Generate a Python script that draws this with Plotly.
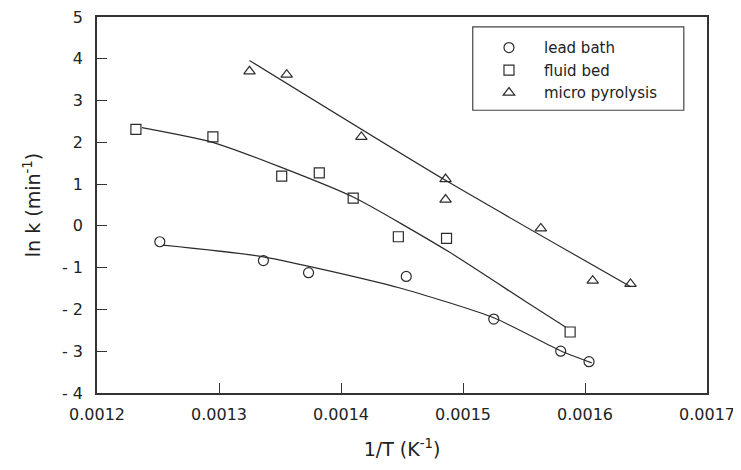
import plotly.graph_objects as go

# ---- data ----
lead_x = [0.0012515, 0.0013364, 0.0013734, 0.0014535, 0.0015252, 0.0015801, 0.0016033]
lead_y = [-0.38, -0.83, -1.12, -1.21, -2.23, -3.00, -3.25]

fluid_x = [0.0012319, 0.0012950, 0.0013514, 0.0013822, 0.0014100, 0.0014470, 0.0014865, 0.0015878]
fluid_y = [2.31, 2.13, 1.19, 1.27, 0.665, -0.26, -0.30, -2.54]

micro_x = [0.0013250, 0.0013555, 0.0014167, 0.0014857, 0.0014857, 0.0015638, 0.0016063, 0.0016373]
micro_y = [3.70, 3.62, 2.13, 1.12, 0.63, -0.06, -1.31, -1.39]

# fitted curves
lead_fit_x = [0.0012542, 0.0013364, 0.0014475, 0.0015252, 0.0015799, 0.0016055]
lead_fit_y = [-0.46, -0.74, -1.48, -2.20, -2.99, -3.28]

fluid_fit_x = [0.0012368, 0.0012948, 0.0013511, 0.0014100, 0.0014884, 0.0015513, 0.0015840]
fluid_fit_y = [2.35, 2.00, 1.40, 0.69, -0.62, -1.81, -2.42]

micro_fit_x = [0.0013250, 0.0014857, 0.0016371]
micro_fit_y = [3.96, 1.09, -1.45]

series_names = ["lead bath", "fluid bed", "micro pyrolysis"]

x_tickvals = [0.0012, 0.0013, 0.0014, 0.0015, 0.0016, 0.0017]
x_ticktext = ["0.0012", "0.0013", "0.0014", "0.0015", "0.0016", "0.0017"]
y_tickvals = [5, 4, 3, 2, 1, 0, -1, -2, -3, -4]
y_ticktext = ["5", "4", "3", "2", "1", "0", "- 1", "- 2", "- 3", "- 4"]

INK = "#2b2b2b"
FONT = "DejaVu Sans, Verdana, sans-serif"

fig = go.Figure()

for fx, fy in [(lead_fit_x, lead_fit_y), (fluid_fit_x, fluid_fit_y), (micro_fit_x, micro_fit_y)]:
    fig.add_trace(go.Scatter(x=fx, y=fy, mode="lines", showlegend=False,
                             line=dict(color=INK, width=1.2, shape="spline", smoothing=0.6),
                             hoverinfo="skip"))

symbols = ["circle-open", "square-open", "triangle-up-open"]
for name, xs, ys, sym in zip(series_names, [lead_x, fluid_x, micro_x],
                             [lead_y, fluid_y, micro_y], symbols):
    fig.add_trace(go.Scatter(x=xs, y=ys, mode="markers", name=name,
                             marker=dict(symbol=sym, size=10, color=INK,
                                         line=dict(color=INK, width=1.2))))

# page body has an 8px default margin: figure is sized/offset to compensate
fig.update_layout(
    width=733, height=462,
    margin=dict(l=89, r=34, t=9, b=77, autoexpand=False),
    paper_bgcolor="white", plot_bgcolor="white",
    font=dict(family=FONT, size=15, color="#222"),
    showlegend=True,
    legend=dict(x=0.618, y=0.962, xanchor="left", yanchor="top",
                bgcolor="rgba(0,0,0,0)", borderwidth=0,
                font=dict(size=15, family=FONT, color="#222"),
                itemwidth=60, tracegroupgap=0),
    shapes=[dict(type="rect", xref="paper", yref="paper",
                 x0=0.616, x1=0.962, y0=0.752, y1=0.9736,
                 line=dict(color="#444", width=1.2), fillcolor="rgba(0,0,0,0)")],
)

fig.update_xaxes(range=[0.0012, 0.0017], tickvals=x_tickvals, ticktext=x_ticktext,
                 ticks="inside", ticklen=10, tickwidth=1.2, tickcolor="#333",
                 showline=True, linecolor="#333", linewidth=1.5, mirror=True,
                 showgrid=False, zeroline=False, automargin=False, ticklabelstandoff=6,
                 ticklabeloverflow="allow",
                 tickfont=dict(size=16, family=FONT, color="#222"),
                 title=dict(text="1/T (K<sup>-1</sup>)", font=dict(size=19, family=FONT, color="#222"),
                            standoff=20))
fig.update_yaxes(range=[-4, 5], tickvals=y_tickvals, ticktext=y_ticktext,
                 ticks="inside", ticklen=10, tickwidth=1.2, tickcolor="#333",
                 showline=True, linecolor="#333", linewidth=1.5, mirror=True,
                 showgrid=False, zeroline=False, automargin=False, ticklabelstandoff=9,
                 ticklabeloverflow="allow",
                 tickfont=dict(size=16, family=FONT, color="#222"),
                 title=dict(text="ln k (min<sup>-1</sup>)", font=dict(size=19, family=FONT, color="#222"),
                            standoff=16))

fig.write_html("out.html")
